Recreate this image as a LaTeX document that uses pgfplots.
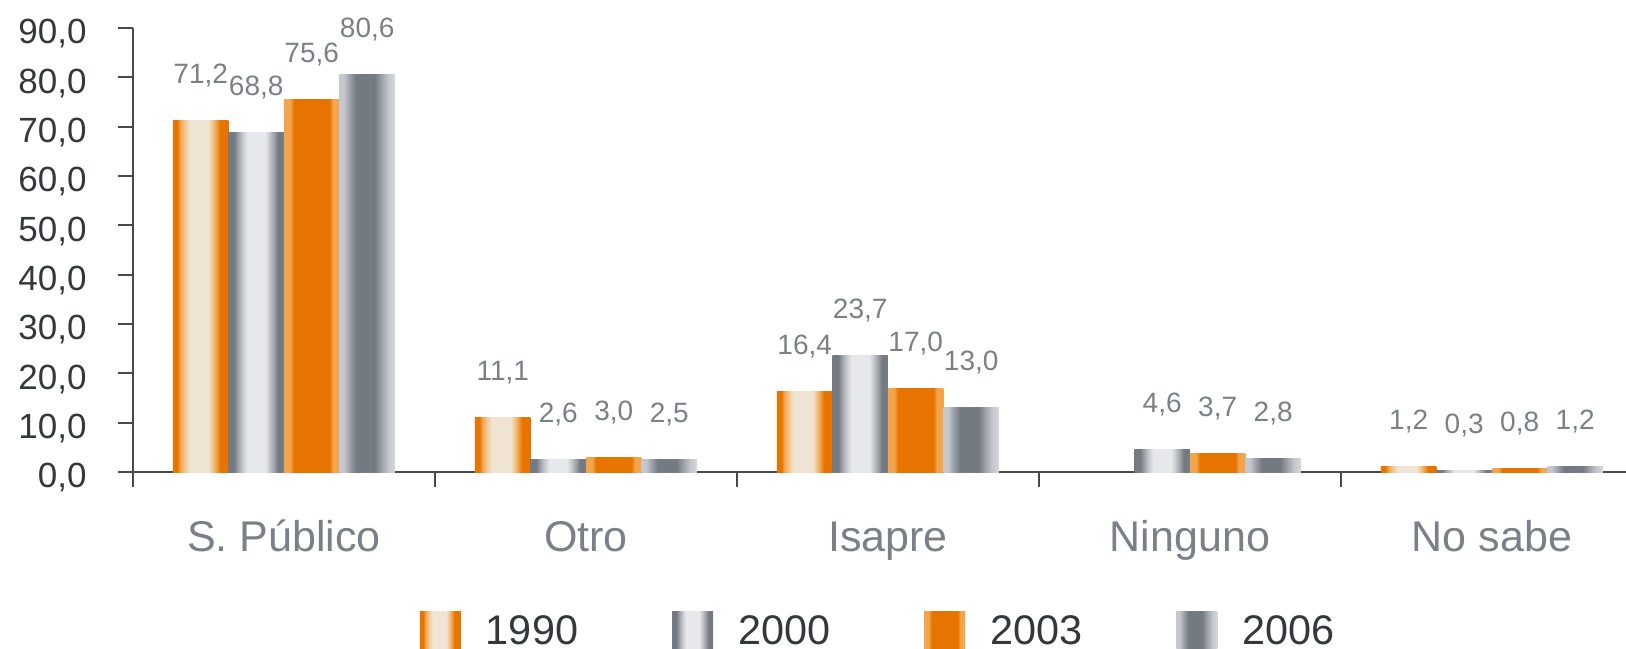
\documentclass[border=0pt]{standalone}
\usepackage{fontspec}
\setmainfont{Liberation Sans}
\usepackage{pgfplots}
\pgfplotsset{compat=1.18}
\definecolor{or}{HTML}{E87400}
\definecolor{orL}{HTML}{F2A54C}
\definecolor{orLL}{HTML}{F1CB98}
\definecolor{cream}{HTML}{F0E4D4}
\definecolor{gD}{HTML}{737A82}
\definecolor{gM}{HTML}{9CA0A8}
\definecolor{gL}{HTML}{C4C7CC}
\definecolor{gLL}{HTML}{E7E8EC}
\definecolor{gR}{HTML}{D6D8DC}
\definecolor{axiscol}{HTML}{454A4F}
\definecolor{tickcol}{HTML}{33383D}
\definecolor{labcol}{HTML}{7A8088}
\pgfdeclarehorizontalshading{sA}{100bp}{color(0bp)=(or); color(25bp)=(or); color(29bp)=(or); color(31.5bp)=(orL); color(36bp)=(orLL); color(40bp)=(cream); color(57bp)=(cream); color(60bp)=(orLL); color(63.5bp)=(orL); color(67.5bp)=(or); color(75bp)=(or); color(100bp)=(or)}
\pgfdeclarehorizontalshading{sB}{100bp}{color(0bp)=(gD); color(25bp)=(gD); color(30bp)=(gD); color(33.5bp)=(gM); color(37.5bp)=(gL); color(42bp)=(gLL); color(58bp)=(gLL); color(62bp)=(gL); color(66bp)=(gM); color(69.5bp)=(gD); color(75bp)=(gD); color(100bp)=(gD)}
\pgfdeclarehorizontalshading{sC}{100bp}{color(0bp)=(orL); color(25bp)=(orL); color(30.5bp)=(orL); color(34bp)=(or); color(66bp)=(or); color(69bp)=(orL); color(75bp)=(orL); color(100bp)=(orL)}
\pgfdeclarehorizontalshading{sD}{100bp}{color(0bp)=(gL); color(25bp)=(gL); color(29bp)=(gL); color(34bp)=(gM); color(40bp)=(gD); color(56.5bp)=(gD); color(62.5bp)=(gM); color(69bp)=(gL); color(75bp)=(gR); color(100bp)=(gR)}
\pgfplotsset{
  myleg/.style={legend image code/.code={\path[##1, draw=none] (0pt,-8pt) rectangle (20.5pt,10.5pt);}},
  barbase/.style={ybar, bar width=27.75pt, draw=none, shade, myleg},
  pA/.style={barbase, shading=sA, bar shift=-41.625pt, every node near coord/.append style={xshift=-41.625pt}},
  pB/.style={barbase, shading=sB, bar shift=-13.875pt, every node near coord/.append style={xshift=-13.875pt}},
  pC/.style={barbase, shading=sC, bar shift=13.875pt, every node near coord/.append style={xshift=13.875pt}},
  pD/.style={barbase, shading=sD, bar shift=41.625pt, every node near coord/.append style={xshift=41.625pt}},
}
\begin{document}
\begin{tikzpicture}
\begin{axis}[
  at={(0,0)}, anchor=south west,
  scale only axis, width=746.5pt, height=222pt,
  xmin=-0.5, xmax=4.444, ymin=0, ymax=90,
  clip=false,
  axis lines=left,
  axis line style={-, draw=axiscol, line width=1pt},
  /pgf/number format/assume math mode=true,
  ytick={0,10,...,90},
  yticklabel={\pgfmathprintnumber[fixed,fixed zerofill,precision=1,use comma]{\tick}},
  yticklabel style={font=\fontsize{17.5}{17.5}\selectfont, text=tickcol, anchor=base east, inner sep=0pt, xshift=-15.5pt, yshift=-7.9pt},
  xtick={0,1,2,3,4},
  xticklabels={S. Público, Otro, Isapre, Ninguno, No sabe},
  xticklabel style={font=\fontsize{21.5}{21.5}\selectfont, text=labcol, anchor=base, inner sep=0pt, yshift=-32pt},
  minor xtick={-0.5,0.5,1.5,2.5,3.5},
  tick align=outside,
  major tick length=7.5pt,
  minor tick length=7.5pt,
  tick style={draw=axiscol, line width=1pt},
  major x tick style={draw=none},
  nodes near coords={\pgfmathprintnumber[fixed,fixed zerofill,precision=1,use comma]{\pgfplotspointmeta}},
  every node near coord/.append style={font=\fontsize{14}{14}\selectfont, text=labcol, anchor=base, inner sep=0pt, yshift=18.5pt},
  legend columns=4,
  legend style={draw=none, fill=none, inner sep=0pt, outer sep=0pt,
    at={(axis cs:0.4503,-35.68)}, anchor=south west,
    font=\fontsize{20.7}{20.7}\selectfont, text=tickcol,
    nodes={inner sep=0pt},
    /tikz/every odd column/.append style={column sep=12.5pt},
    /tikz/every even column/.append style={column sep=47pt}},
]
% 1990
\addplot[pA] coordinates {(0,71.2)};
\addplot[pA, forget plot] coordinates {(1,11.1)};
\addplot[pA, forget plot] coordinates {(2,16.4)};
\addplot[pA, forget plot] coordinates {(4,1.2)};
% 2000
\addplot[pB] coordinates {(0,68.8)};
\addplot[pB, forget plot] coordinates {(1,2.6)};
\addplot[pB, forget plot] coordinates {(2,23.7)};
\addplot[pB, forget plot] coordinates {(3,4.6)};
\addplot[pB, forget plot] coordinates {(4,0.3)};
% 2003
\addplot[pC] coordinates {(0,75.6)};
\addplot[pC, forget plot] coordinates {(1,3.0)};
\addplot[pC, forget plot] coordinates {(2,17.0)};
\addplot[pC, forget plot] coordinates {(3,3.7)};
\addplot[pC, forget plot] coordinates {(4,0.8)};
% 2006
\addplot[pD] coordinates {(0,80.6)};
\addplot[pD, forget plot] coordinates {(1,2.5)};
\addplot[pD, forget plot] coordinates {(2,13.0)};
\addplot[pD, forget plot] coordinates {(3,2.8)};
\addplot[pD, forget plot] coordinates {(4,1.2)};
\legend{1990,2000,2003,2006}
\end{axis}
\pgfresetboundingbox
\path (-66.5pt,-88pt) rectangle (746.5pt,236pt);
\end{tikzpicture}
\end{document}
